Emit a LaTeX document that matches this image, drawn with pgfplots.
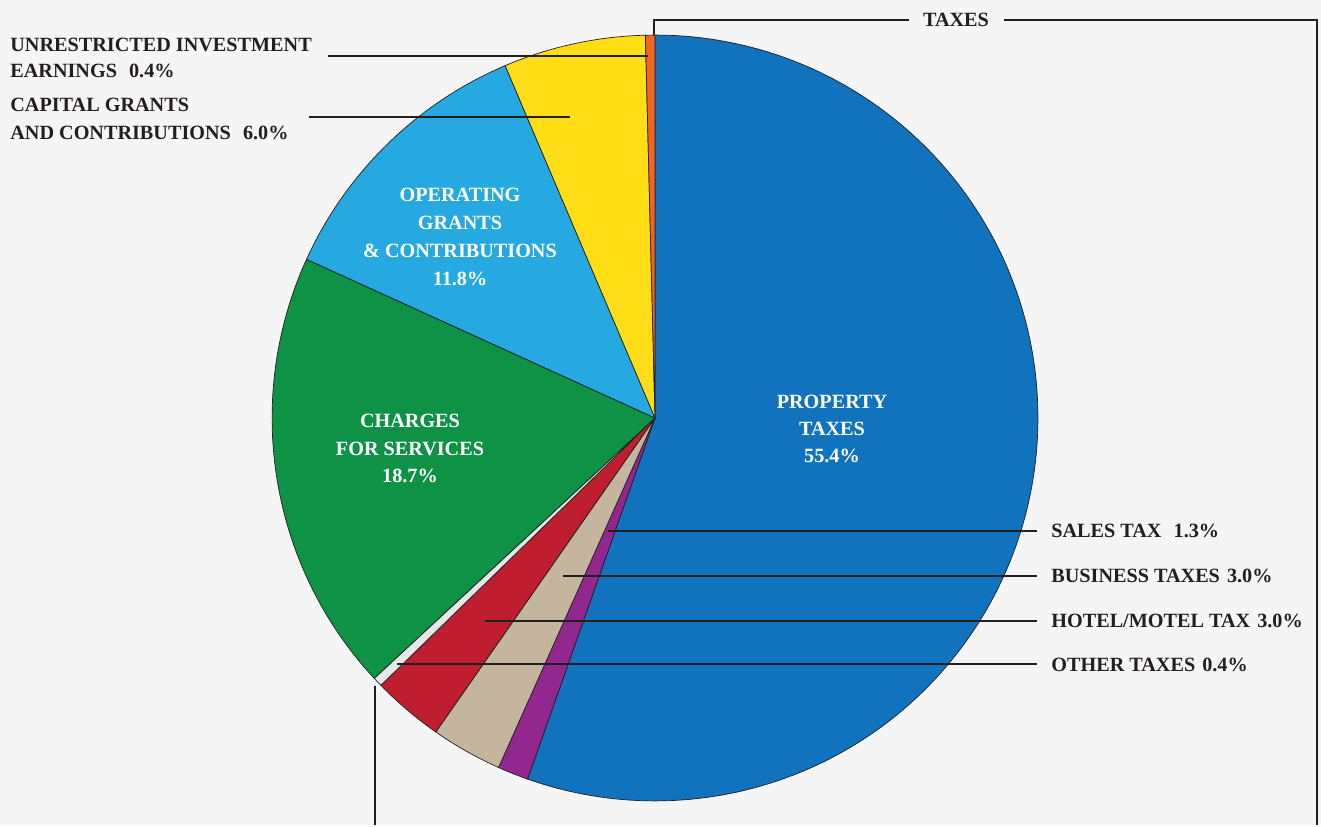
\documentclass[border=0pt]{standalone}
\usepackage{pgfplots}
\pgfplotsset{compat=1.18}
\usepackage{fontspec}
\setmainfont{Liberation Serif}
\definecolor{cBlue}{RGB}{17,115,189}
\definecolor{cPurple}{RGB}{146,39,143}
\definecolor{cTan}{RGB}{196,181,158}
\definecolor{cRed}{RGB}{190,30,45}
\definecolor{cOther}{RGB}{230,231,232}
\definecolor{cGreen}{RGB}{14,146,69}
\definecolor{cLight}{RGB}{38,168,224}
\definecolor{cYellow}{RGB}{255,221,23}
\definecolor{cOrange}{RGB}{241,101,34}
\definecolor{cText}{RGB}{35,31,32}
\definecolor{cBg}{RGB}{244,245,244}
\def\R{7.66cm}
% #1 cumulative percent before the slice, #2 percent of the slice, #3 colour
\newcommand{\slice}[3]{\filldraw[fill=#3, draw=cText, line width=0.4pt]
  (axis cs:655,407) -- ++({90-3.6*(#1)}:\R)
  arc[start angle={90-3.6*(#1)}, delta angle={-3.6*(#2)}, radius=\R] -- cycle;}
\begin{document}
\begin{tikzpicture}[font=\fontsize{11.5}{13}\selectfont\bfseries]
\begin{axis}[x=0.02cm, y=0.02cm, xmin=0, xmax=1321, ymin=0, ymax=825,
  hide axis, clip=false, disabledatascaling, scale only axis]
\fill[cBg] (axis cs:0,0) rectangle (axis cs:1321,825);
\addplot[draw=none, forget plot] coordinates {(0,0) (1321,825)};
% slices: property, sales, business, hotel/motel, other, charges, operating, capital, investment
\slice{0}{55.4}{cBlue}
\slice{55.4}{1.3}{cPurple}
\slice{56.7}{3.0}{cTan}
\slice{59.7}{3.0}{cRed}
\slice{62.7}{0.4}{cOther}
\slice{63.1}{18.7}{cGreen}
\slice{81.8}{11.8}{cLight}
\slice{93.6}{6.0}{cYellow}
\slice{99.6}{0.4}{cOrange}
% leader lines
\begin{scope}[draw=cText, line width=1.3pt]
\draw (axis cs:654,790) -- (axis cs:654,805) -- (axis cs:909,805);
\draw (axis cs:1004,805) -- (axis cs:1317,805) -- (axis cs:1317,0);
\draw (axis cs:375,139) -- (axis cs:375,0);
\draw (axis cs:608,294) -- (axis cs:1037,294);
\draw (axis cs:563,249) -- (axis cs:1037,249);
\draw (axis cs:485,204) -- (axis cs:1037,204);
\draw (axis cs:397,161) -- (axis cs:1037,161);
\draw (axis cs:328,769) -- (axis cs:648,769);
\draw (axis cs:309,708) -- (axis cs:570,708);
\end{scope}
% outside labels
\begin{scope}[every node/.style={text=cText, inner sep=0pt}]
\node[anchor=base] at (axis cs:956,798) {TAXES};
\node[anchor=base west] at (axis cs:1051,288) {SALES TAX\hspace{0.6em}1.3\%};
\node[anchor=base west] at (axis cs:1051,243) {BUSINESS TAXES\hspace{0.35em}3.0\%};
\node[anchor=base west] at (axis cs:1051,198) {HOTEL/MOTEL TAX\hspace{0.35em}3.0\%};
\node[anchor=base west] at (axis cs:1051,154) {OTHER TAXES\hspace{0.35em}0.4\%};
\node[anchor=base west] at (axis cs:10,773) {UNRESTRICTED INVESTMENT};
\node[anchor=base west] at (axis cs:10,747) {EARNINGS\hspace{0.6em}0.4\%};
\node[anchor=base west] at (axis cs:10,713) {CAPITAL GRANTS};
\node[anchor=base west] at (axis cs:10,685) {AND CONTRIBUTIONS\hspace{0.6em}6.0\%};
\end{scope}
% inside labels
\begin{scope}[every node/.style={text=white, inner sep=0pt, anchor=base}]
\node at (axis cs:832,417) {PROPERTY};
\node at (axis cs:832,390) {TAXES};
\node at (axis cs:832,363) {55.4\%};
\node at (axis cs:460,623) {OPERATING};
\node at (axis cs:460,595) {GRANTS};
\node at (axis cs:460,567) {\&\ CONTRIBUTIONS};
\node at (axis cs:460,540) {11.8\%};
\node at (axis cs:410,398) {CHARGES};
\node at (axis cs:410,370) {FOR SERVICES};
\node at (axis cs:410,343) {18.7\%};
\end{scope}
\end{axis}
\end{tikzpicture}
\end{document}
